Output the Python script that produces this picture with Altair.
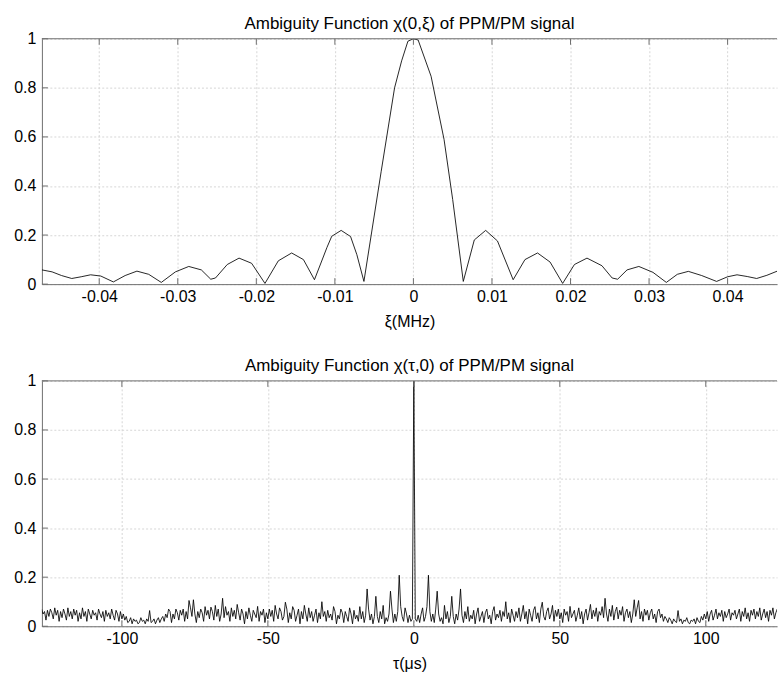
import altair as alt
import pandas as pd

# ---------------- data ----------------
# Top panel: chi(0, xi), xi in MHz
xi = [-0.0473, -0.0460, -0.0448, -0.0435, -0.0423, -0.0411, -0.0398, -0.0382,
      -0.0367, -0.0352, -0.0337, -0.0321, -0.0303, -0.0286, -0.0270, -0.0258,
      -0.0252, -0.0237, -0.0222, -0.0206, -0.0189, -0.0172, -0.0155, -0.0140,
      -0.0126, -0.0110, -0.0104, -0.0092, -0.0080, -0.0072, -0.0063, -0.0041,
      -0.0024, -0.0015, -0.0007, 0.0, 0.0006, 0.00225, 0.0039, 0.0050,
      0.00635, 0.00775, 0.0092, 0.0107, 0.0127, 0.0142, 0.0158, 0.0174,
      0.0190, 0.0205, 0.0221, 0.0240, 0.0253, 0.0260, 0.0272, 0.0287,
      0.0305, 0.0322, 0.0336, 0.0350, 0.0367, 0.0386, 0.0400, 0.0412,
      0.0425, 0.0437, 0.0450, 0.0464]
chi_xi = [0.058, 0.050, 0.035, 0.023, 0.030, 0.038, 0.033, 0.009,
          0.035, 0.053, 0.040, 0.007, 0.050, 0.072, 0.058, 0.020,
          0.025, 0.080, 0.106, 0.085, 0.003, 0.095, 0.127, 0.100,
          0.018, 0.150, 0.195, 0.219, 0.194, 0.120, 0.011, 0.46,
          0.80, 0.91, 0.99, 1.0, 0.995, 0.847, 0.59, 0.345,
          0.011, 0.18, 0.219, 0.176, 0.018, 0.100, 0.127, 0.090,
          0.003, 0.080, 0.106, 0.075, 0.025, 0.020, 0.058, 0.072,
          0.048, 0.007, 0.040, 0.052, 0.035, 0.011, 0.030, 0.038,
          0.031, 0.023, 0.036, 0.054]

# Bottom panel: chi(tau, 0) is symmetric in tau; values read for tau >= 0
tau_step = 0.5  # microseconds between samples
chi_tau_half = [
    1.0, 0.03, 0.02, 0.045, 0.015, 0.05, 0.075, 0.02, 0.04, 0.08,
    0.208, 0.06, 0.02, 0.05, 0.015, 0.07, 0.143, 0.05, 0.02, 0.035,
    0.01, 0.085, 0.03, 0.06, 0.015, 0.04, 0.122, 0.04, 0.01, 0.05,
    0.025, 0.07, 0.152, 0.045, 0.015, 0.06, 0.03, 0.08, 0.02, 0.045,
    0.03, 0.065, 0.01, 0.05, 0.075, 0.02, 0.04, 0.06, 0.015, 0.055,
    0.07, 0.03, 0.045, 0.01, 0.06, 0.08, 0.025, 0.05, 0.035, 0.065,
    0.02, 0.06, 0.04, 0.10, 0.03, 0.055, 0.015, 0.07, 0.045, 0.02,
    0.06, 0.035, 0.075, 0.02, 0.05, 0.085, 0.03, 0.06, 0.01, 0.07,
    0.045, 0.02, 0.065, 0.08, 0.03, 0.055, 0.015, 0.07, 0.098, 0.04,
    0.025, 0.06, 0.075, 0.03, 0.05, 0.085, 0.02, 0.065, 0.04, 0.07,
    0.03, 0.055, 0.015, 0.07, 0.045, 0.06, 0.02, 0.081, 0.035, 0.05,
    0.065, 0.02, 0.045, 0.075, 0.03, 0.06, 0.01, 0.05, 0.07, 0.025,
    0.055, 0.089, 0.03, 0.065, 0.04, 0.075, 0.02, 0.06, 0.045, 0.08,
    0.035, 0.114, 0.05, 0.02, 0.07, 0.04, 0.085, 0.025, 0.06, 0.078,
    0.03, 0.065, 0.045, 0.08, 0.02, 0.055, 0.07, 0.035, 0.06, 0.015,
    0.05, 0.108, 0.04, 0.075, 0.105, 0.03, 0.06, 0.02, 0.07, 0.045,
    0.065, 0.025, 0.055, 0.07, 0.03, 0.05, 0.015, 0.06, 0.07, 0.035,
    0.05, 0.02, 0.04, 0.03, 0.015, 0.035, 0.025, 0.01, 0.03, 0.02,
    0.015, 0.064, 0.02, 0.03, 0.01, 0.025, 0.02, 0.035, 0.015, 0.01,
    0.025, 0.02, 0.03, 0.01, 0.035, 0.02, 0.015, 0.04, 0.025, 0.05,
    0.03, 0.06, 0.02, 0.05, 0.065, 0.025, 0.045, 0.07, 0.03, 0.055,
    0.04, 0.065, 0.02, 0.06, 0.035, 0.05, 0.07, 0.025, 0.055, 0.045,
    0.065, 0.03, 0.05, 0.07, 0.02, 0.06, 0.04, 0.075, 0.03, 0.055,
    0.02, 0.065, 0.045, 0.07, 0.03, 0.06, 0.04, 0.075, 0.025, 0.05,
    0.07, 0.035, 0.06, 0.02, 0.065, 0.045, 0.075, 0.03, 0.055, 0.07,
    0.04, 0.065, 0.025, 0.06, 0.05, 0.07,
]

xi_ticks = [-0.04, -0.03, -0.02, -0.01, 0.0, 0.01, 0.02, 0.03, 0.04]
tau_ticks = [-100, -50, 0, 50, 100]
y_ticks = [0, 0.2, 0.4, 0.6, 0.8, 1.0]

xi_domain = [-0.0473, 0.04629]
tau_domain = [-127.4, 124.4]

top_title = "Ambiguity Function \u03c7(0,\u03be) of PPM/PM signal"
bottom_title = "Ambiguity Function \u03c7(\u03c4,0) of PPM/PM signal"
top_xlabel = "\u03be(MHz)"
bottom_xlabel = "\u03c4(\u03bcs)"

# ---------------- tables ----------------
df_top = pd.DataFrame({"x": xi, "y": chi_xi})
half_tau = [i * tau_step for i in range(len(chi_tau_half))]
tau_full = [-t for t in half_tau[:0:-1]] + half_tau
chi_full = chi_tau_half[:0:-1] + chi_tau_half
df_bot = pd.DataFrame({"x": tau_full, "y": chi_full})

FONT = "Liberation Sans"
FS = 16
AX = "#6e6e6e"
W, H = 737, 246
TICK = 6

label_expr = "(datum.value < 0 ? '-' : '') + format(abs(datum.value), '~g')"


def panel(df, domain, xticks, xlabel, title):
    xs = alt.Scale(domain=domain, nice=False, zero=False)
    ys = alt.Scale(domain=[0, 1], nice=False)
    x_enc = alt.X("x:Q", scale=xs, title=xlabel,
                  axis=alt.Axis(values=xticks, title=xlabel, labelExpr=label_expr, grid=True))
    y_enc = alt.Y("y:Q", scale=ys, title=None,
                  axis=alt.Axis(values=y_ticks, format="~g", title=None, grid=True))
    line = alt.Chart(df).mark_line(color="black", strokeWidth=0.85, clip=True).encode(
        x=x_enc, y=y_enc)
    xt = pd.DataFrame({"x": xticks})
    yt = pd.DataFrame({"y": y_ticks})
    tb = alt.Chart(xt).mark_rule(color=AX, strokeWidth=1).encode(
        x=x_enc, y=alt.value(H), y2=alt.value(H - TICK))
    tt = alt.Chart(xt).mark_rule(color=AX, strokeWidth=1).encode(
        x=x_enc, y=alt.value(0), y2=alt.value(TICK))
    tl = alt.Chart(yt).mark_rule(color=AX, strokeWidth=1).encode(
        y=y_enc, x=alt.value(0), x2=alt.value(TICK))
    frame = alt.Chart(pd.DataFrame({"k": [0]})).mark_rule(color=AX, strokeWidth=1).encode(
        x=alt.value(0), x2=alt.value(W), y=alt.value(0))
    return alt.layer(line, tb, tt, tl, frame).properties(
        width=W, height=H, title=alt.TitleParams(title, anchor="middle"))


top = panel(df_top, xi_domain, xi_ticks, top_xlabel, top_title)
bottom = panel(df_bot, tau_domain, tau_ticks, bottom_xlabel, bottom_title)

chart = alt.vconcat(top, bottom, spacing=28).properties(
    padding={"left": 13, "top": 14, "right": 0, "bottom": 0},
    background="white",
).configure_view(stroke=None).configure_axis(
    labelFont=FONT, labelFontSize=FS, labelColor="black",
    titleFont=FONT, titleFontSize=FS, titleFontWeight="normal", titleColor="black",
    domainColor=AX, domainWidth=1, ticks=False,
    gridColor="#d6d6d6", gridDash=[2, 2], gridWidth=1, titlePadding=9,
).configure_axisX(labelPadding=4).configure_axisY(labelPadding=6).configure_title(
    font=FONT, fontSize=17, fontWeight="normal", color="black", offset=-2,
)

chart.save("out.html", embed_options={"renderer": "svg", "actions": False})
